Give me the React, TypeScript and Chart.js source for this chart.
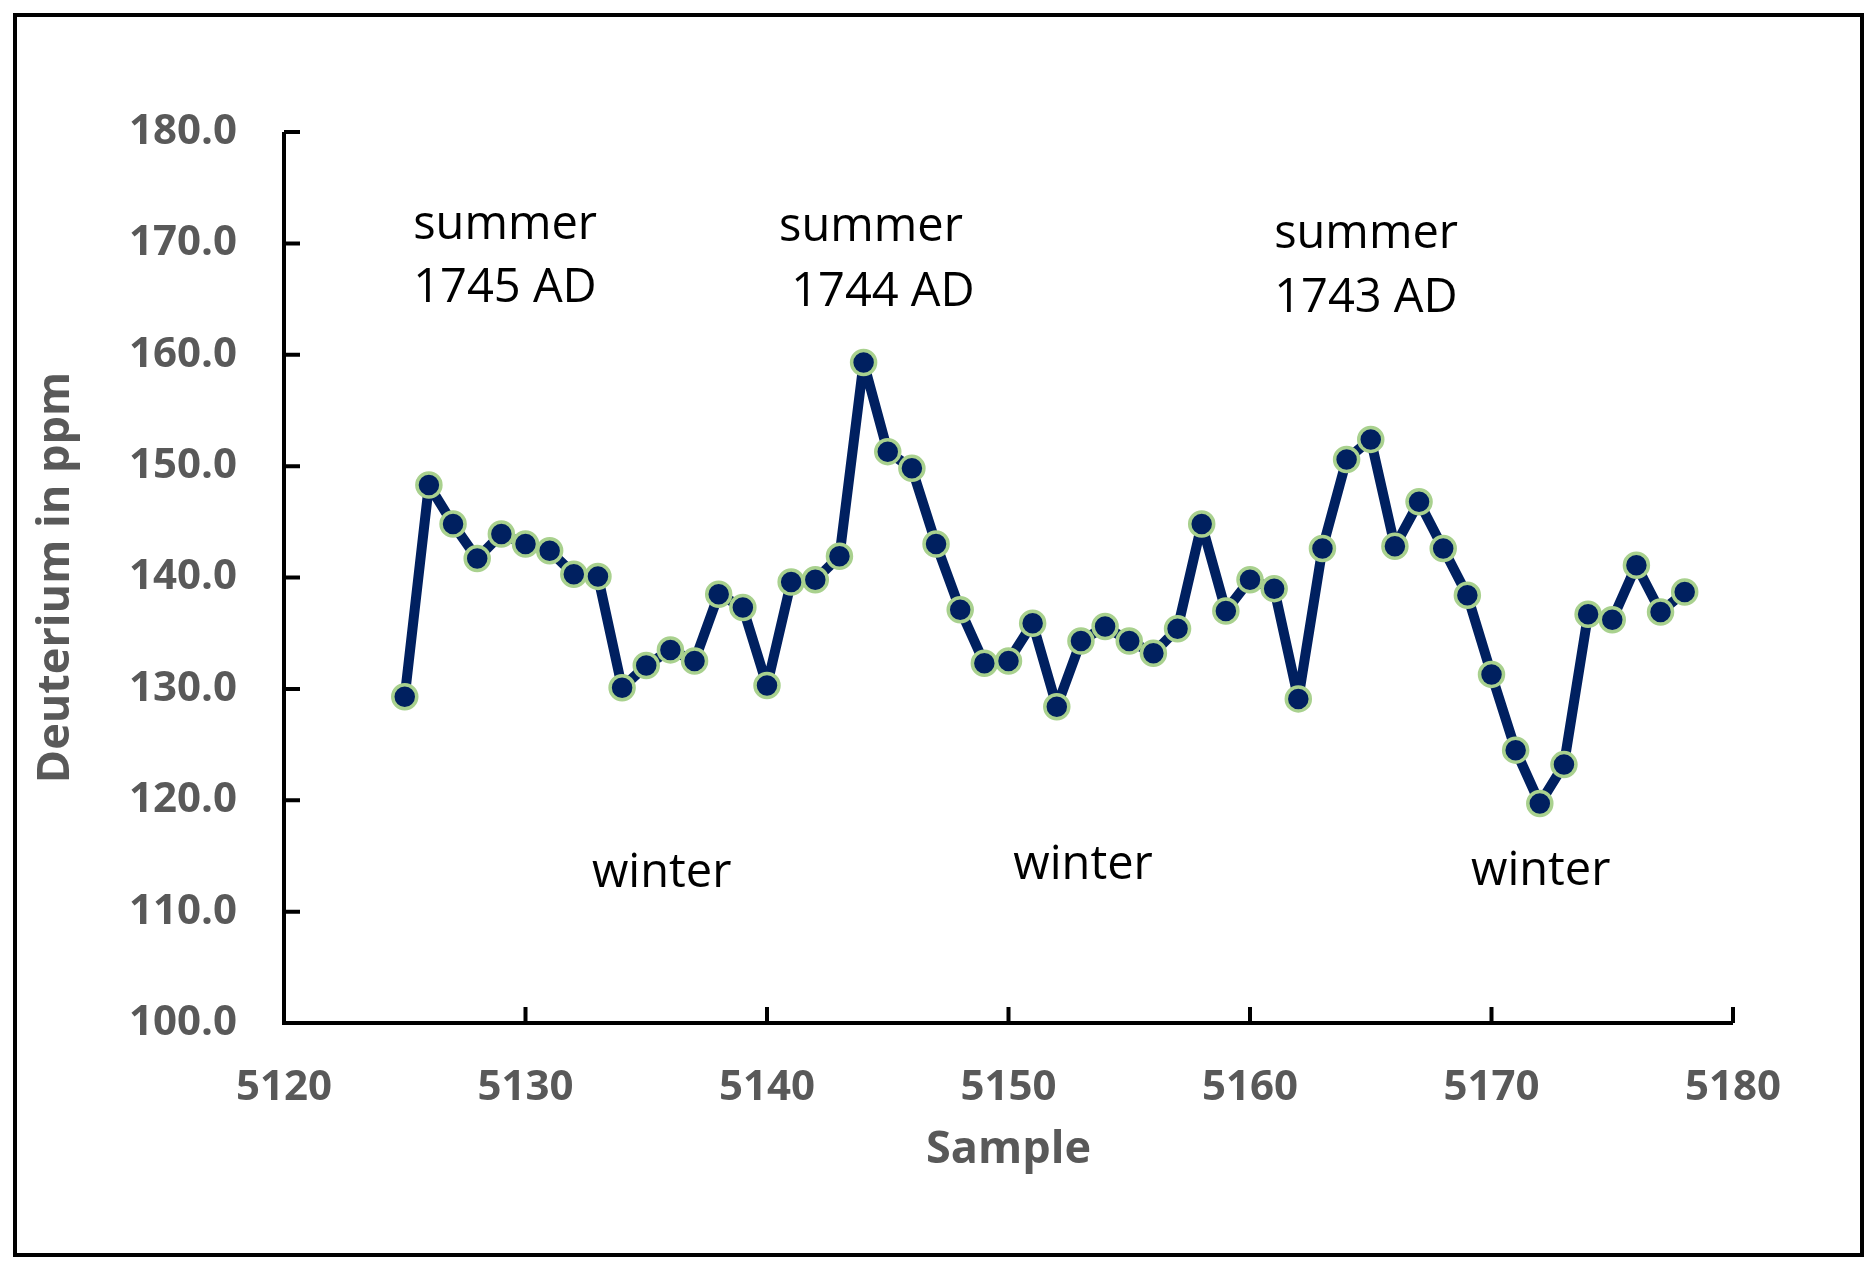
import React, { useEffect, useRef } from "react";
import { Chart, registerables } from "chart.js";

Chart.register(...registerables);

const samples = [
  5125, 5126, 5127, 5128, 5129, 5130, 5131, 5132, 5133, 5134, 5135, 5136, 5137, 5138,
  5139, 5140, 5141, 5142, 5143, 5144, 5145, 5146, 5147, 5148, 5149, 5150, 5151, 5152,
  5153, 5154, 5155, 5156, 5157, 5158, 5159, 5160, 5161, 5162, 5163, 5164, 5165, 5166,
  5167, 5168, 5169, 5170, 5171, 5172, 5173, 5174, 5175, 5176, 5177, 5178,
];
const deuterium = [
  129.3, 148.3, 144.8, 141.7, 143.9, 143.0, 142.4, 140.3, 140.1, 130.1, 132.1, 133.5,
  132.5, 138.5, 137.3, 130.3, 139.6, 139.8, 141.9, 159.3, 151.3, 149.8, 143.0, 137.1,
  132.3, 132.5, 135.9, 128.4, 134.3, 135.6, 134.3, 133.2, 135.4, 144.8, 137.0, 139.8,
  139.0, 129.1, 142.6, 150.6, 152.4, 142.8, 146.8, 142.6, 138.4, 131.3, 124.5, 119.7,
  123.2, 136.7, 136.2, 141.1, 136.9, 138.7,
];
const xTicks = [5120, 5130, 5140, 5150, 5160, 5170, 5180];
const yTicks = [100, 110, 120, 130, 140, 150, 160, 170, 180];

// annotation texts placed in data units (left edge of text)
const summerTexts = ["summer", "1745 AD", "summer", "1744 AD", "summer", "1743 AD"];
const summerX = [5125.35, 5125.35, 5140.5, 5141.0, 5161.0, 5161.0];
const summerY = [171.6, 165.9, 171.4, 165.6, 170.8, 165.0];
const winterTexts = ["winter", "winter", "winter"];
const winterX = [5132.75, 5150.2, 5169.15];
const winterY = [113.4, 114.1, 113.55];

const FONT = "'Open Sans', 'Noto Sans', sans-serif";
const W = 1875;
const H = 1267;

const axesPlugin = {
  id: "axesPlugin",
  beforeDatasetsDraw(chart: any) {
    const { ctx, chartArea, scales } = chart;
    const xs = scales.x;
    const ys = scales.y;
    ctx.save();
    ctx.strokeStyle = "#000000";
    ctx.lineWidth = 4;
    ctx.lineCap = "butt";
    ctx.beginPath();
    ctx.moveTo(chartArea.left, chartArea.top);
    ctx.lineTo(chartArea.left, chartArea.bottom);
    ctx.lineTo(chartArea.right, chartArea.bottom);
    ctx.stroke();
    const tl = 16;
    ctx.beginPath();
    yTicks.forEach((v) => {
      const y = ys.getPixelForValue(v);
      ctx.moveTo(chartArea.left, y);
      ctx.lineTo(chartArea.left + tl, y);
    });
    xTicks.forEach((v) => {
      const x = xs.getPixelForValue(v);
      ctx.moveTo(x, chartArea.bottom);
      ctx.lineTo(x, chartArea.bottom - tl);
    });
    ctx.stroke();
    ctx.restore();
  },
  afterDatasetsDraw(chart: any) {
    const { ctx, scales } = chart;
    const xs = scales.x;
    const ys = scales.y;
    ctx.save();
    ctx.fillStyle = "#000000";
    ctx.font = `400 47px ${FONT}`;
    ctx.textBaseline = "middle";
    ctx.textAlign = "left";
    summerTexts.forEach((t, i) => {
      ctx.fillText(t, xs.getPixelForValue(summerX[i]), ys.getPixelForValue(summerY[i]));
    });
    winterTexts.forEach((t, i) => {
      ctx.fillText(t, xs.getPixelForValue(winterX[i]), ys.getPixelForValue(winterY[i]));
    });
    ctx.restore();
  },
};

export default function App() {
  const ref = useRef<HTMLCanvasElement | null>(null);

  useEffect(() => {
    if (!ref.current) return;
    const chart = new Chart(ref.current, {
      type: "line",
      data: {
        datasets: [
          {
            data: samples.map((s, i) => ({ x: s, y: deuterium[i] })),
            borderColor: "#002060",
            backgroundColor: "#002060",
            borderWidth: 10,
            borderJoinStyle: "round",
            tension: 0,
            pointRadius: 12,
            pointBorderWidth: 3.5,
            pointBackgroundColor: "#002060",
            pointBorderColor: "#a9d18e",
            pointHoverRadius: 12,
          },
        ],
      },
      options: {
        animation: false,
        responsive: false,
        devicePixelRatio: 1,
        layout: { padding: { left: 0, top: 132, right: 142, bottom: 0 } },
        plugins: { legend: { display: false }, tooltip: { enabled: false } },
        events: [],
        scales: {
          x: {
            type: "linear",
            min: 5120,
            max: 5180,
            afterBuildTicks: (s: any) => {
              s.ticks = xTicks.map((v) => ({ value: v }));
            },
            afterFit: (s: any) => {
              s.height = H - 1023;
            },
            grid: { display: false, drawTicks: false },
            border: { display: false },
            ticks: {
              color: "#595959",
              font: { family: FONT, size: 42, weight: "bold" },
              padding: 40,
              maxRotation: 0,
              autoSkip: false,
              callback: (v: any) => String(v),
            },
            title: {
              display: true,
              text: "Sample",
              color: "#595959",
              font: { family: FONT, size: 45, weight: "bold" },
              padding: { top: 0, bottom: 90 },
            },
          },
          y: {
            type: "linear",
            min: 100,
            max: 180,
            afterBuildTicks: (s: any) => {
              s.ticks = yTicks.map((v) => ({ value: v }));
            },
            afterFit: (s: any) => {
              s.width = 284;
            },
            grid: { display: false, drawTicks: false },
            border: { display: false },
            ticks: {
              color: "#595959",
              font: { family: FONT, size: 42, weight: "bold" },
              padding: 47,
              autoSkip: false,
              callback: (v: any) => Number(v).toFixed(1),
            },
            title: {
              display: true,
              text: "Deuterium in ppm",
              color: "#595959",
              font: { family: FONT, size: 45, weight: "bold" },
              padding: { top: 29, bottom: 0 },
            },
          },
        },
      } as any,
      plugins: [axesPlugin],
    });
    return () => chart.destroy();
  }, []);

  return (
    <div
      style={{
        position: "fixed",
        left: 0,
        top: 0,
        width: W,
        height: H,
        background: "#ffffff",
      }}
    >
      <canvas
        ref={ref}
        width={W}
        height={H}
        style={{ position: "absolute", left: 0, top: 0, width: W, height: H }}
      />
      <div
        style={{
          position: "absolute",
          left: 13,
          top: 13,
          width: 1843,
          height: 1236,
          border: "4px solid #000000",
          pointerEvents: "none",
        }}
      />
    </div>
  );
}
